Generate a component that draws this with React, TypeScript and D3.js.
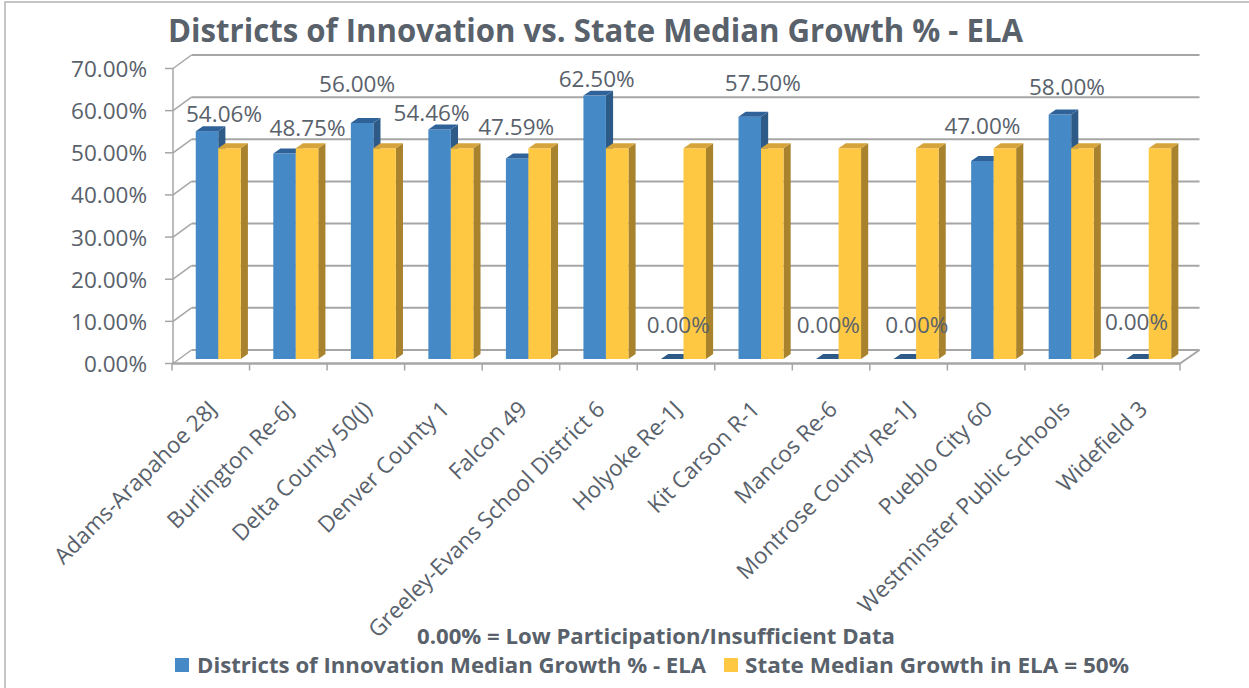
import * as d3 from 'd3'

const categories = [
  'Adams-Arapahoe 28J',
  'Burlington Re-6J',
  'Delta County 50(J)',
  'Denver County 1',
  'Falcon 49',
  'Greeley-Evans School District 6',
  'Holyoke Re-1J',
  'Kit Carson R-1',
  'Mancos Re-6',
  'Montrose County Re-1J',
  'Pueblo City 60',
  'Westminster Public Schools',
  'Widefield 3',
]

// Districts of Innovation median growth % (0 = low participation)
const districtValues = [54.06, 48.75, 56.0, 54.46, 47.59, 62.5, 0, 57.5, 0, 0, 47.0, 58.0, 0]
// State median growth
const stateValues = [50, 50, 50, 50, 50, 50, 50, 50, 50, 50, 50, 50, 50]

const yTicks = [0, 10, 20, 30, 40, 50, 60, 70]

// hand-placed data labels in the original: offset from bar top (dx, dy of baseline)
const labelOffsets = [
  [17, -9], [23, -18], [-5, -31], [-8, -8], [-1, -23], [2, -9], [6, -26],
  [13, -26], [1, -26], [12, -26], [0, -27], [7, -20], [-1, -29],
]

const seriesNames = ['Districts of Innovation Median Growth % - ELA', 'State Median Growth in ELA = 50%']

const TEXT = '#59616b'
const GRID = '#a6a6a6'
const FONT = '"Open Sans", sans-serif'

// colours: front, side, top
const BLUE = ['#4589c7', '#2d5a86', '#30629a']
const GOLD = ['#ffc843', '#a8822c', '#d6a43a']

const DX = 19.5 // depth offset of the back wall
const DY = -13.5

export default function App() {
  const x = d3.scaleBand<string>().domain(categories).range([172, 1180]).padding(0)
  const y = d3.scaleLinear().domain([0, 70]).range([363.5, 68.5])
  const bw = x.bandwidth()

  // project a point at depth z (0 = front, 1 = back)
  const P = (px: number, v: number, z: number) => [px + z * DX, y(v) + z * DY]
  const pts = (a: number[][]) => a.map(p => p.join(',')).join(' ')

  const barW = 22.5
  const zF = 1 / 3
  const zB = 0.7

  const bar = (x0: number, v: number, col: string[], key: string) => {
    const f0 = P(x0, 0, zF)
    const f1 = P(x0, v, zF)
    const b1 = P(x0, v, zB)
    const h = f0[1] - f1[1]
    const ddx = b1[0] - f1[0]
    const ddy = b1[1] - f1[1]
    const top = [
      [f1[0], f1[1]], [f1[0] + barW, f1[1]],
      [f1[0] + barW + ddx, f1[1] + ddy], [f1[0] + ddx, f1[1] + ddy],
    ]
    const side = [
      [f1[0] + barW, f1[1]], [f1[0] + barW + ddx, f1[1] + ddy],
      [f1[0] + barW + ddx, f0[1] + ddy], [f1[0] + barW, f0[1]],
    ]
    return (
      <g key={key}>
        {h > 0 && <polygon points={pts(side)} fill={col[1]} />}
        {h > 0 && <rect x={f1[0]} y={f1[1]} width={barW} height={h} fill={col[0]} />}
        <polygon points={pts(top)} fill={h > 0 ? col[2] : col[1]} />
      </g>
    )
  }

  const backL = P(172, 0, 1)[0]
  const backR = P(1180, 0, 1)[0]

  return (
    <svg width={1249} height={688} style={{ position: 'absolute', left: 0, top: 0, background: '#fff' }}>
      <rect x={5} y={2} width={1260} height={700} fill="#fff" stroke="#b3b3b3" strokeWidth={1.5} />

      <text x={168} y={42} fontFamily={FONT} fontWeight={700} fontSize={33} fill={TEXT}
        textLength={855} lengthAdjust="spacingAndGlyphs">
        Districts of Innovation vs. State Median Growth % - ELA
      </text>

      {/* back wall grid + left wall diagonals */}
      {yTicks.map(t => {
        const f = P(172, t, 0)
        const b = P(172, t, 1)
        return (
          <g key={t}>
            <line x1={backL} x2={backR} y1={b[1]} y2={b[1]} stroke={GRID} strokeWidth={2} />
            <line x1={f[0] + 1} y1={f[1]} x2={b[0]} y2={b[1]} stroke={GRID} strokeWidth={1.5} />
            <line x1={165} x2={173} y1={f[1]} y2={f[1]} stroke={GRID} strokeWidth={1.5} />
            <text x={147} y={f[1]} textAnchor="end" dominantBaseline="central" fontFamily={FONT}
              fontSize={22.5} fill={TEXT}>
              {t.toFixed(2)}%
            </text>
          </g>
        )
      })}
      <line x1={173} x2={173} y1={y(70)} y2={y(0)} stroke={GRID} strokeWidth={1.5} />

      {/* floor */}
      <line x1={172} x2={1180} y1={y(0)} y2={y(0)} stroke={GRID} strokeWidth={2.5} />
      <line x1={1180} y1={y(0)} x2={P(1180, 0, 1)[0]} y2={P(1180, 0, 1)[1]} stroke={GRID} strokeWidth={2} />
      {d3.range(categories.length + 1).map(i => {
        const xx = 172 + i * bw
        return <line key={i} x1={xx} x2={xx} y1={y(0)} y2={y(0) + 7} stroke={GRID} strokeWidth={1.5} />
      })}

      {/* bars */}
      {categories.map((c, i) => {
        const x0 = (x(c) as number) + 23.75 - zF * DX
        return (
          <g key={c}>
            {bar(x0, districtValues[i], BLUE, 'd')}
            {bar(x0 + barW, stateValues[i], GOLD, 's')}
          </g>
        )
      })}

      {/* data labels */}
      {categories.map((c, i) => {
        const f = P((x(c) as number) + 23.75 - zF * DX + barW / 2, districtValues[i], zF)
        return (
          <text key={c} x={f[0] + labelOffsets[i][0]} y={f[1] + labelOffsets[i][1]} textAnchor="middle"
            fontFamily={FONT} fontSize={22.5} fill={TEXT}>
            {districtValues[i].toFixed(2)}%
          </text>
        )
      })}

      {/* category labels */}
      {categories.map(c => {
        const cx = (x(c) as number) + bw / 2 - 6
        return (
          <text key={c} transform={`translate(${cx},397) rotate(-45)`} textAnchor="end"
            dominantBaseline="hanging" fontFamily={FONT} fontSize={22.5} fill={TEXT}>
            {c}
          </text>
        )
      })}

      <text x={417} y={644} fontFamily={FONT} fontWeight={700} fontSize={21} fill={TEXT}
        textLength={478} lengthAdjust="spacingAndGlyphs">
        0.00% = Low Participation/Insufficient Data
      </text>

      {/* legend */}
      <rect x={175} y={658} width={14} height={14} fill={BLUE[0]} />
      <text x={197} y={673} fontFamily={FONT} fontWeight={700} fontSize={21} fill={TEXT}
        textLength={509} lengthAdjust="spacingAndGlyphs">
        {seriesNames[0]}
      </text>
      <rect x={724} y={658} width={14} height={14} fill={GOLD[0]} />
      <text x={745} y={673} fontFamily={FONT} fontWeight={700} fontSize={21} fill={TEXT}
        textLength={384} lengthAdjust="spacingAndGlyphs">
        {seriesNames[1]}
      </text>
    </svg>
  )
}
